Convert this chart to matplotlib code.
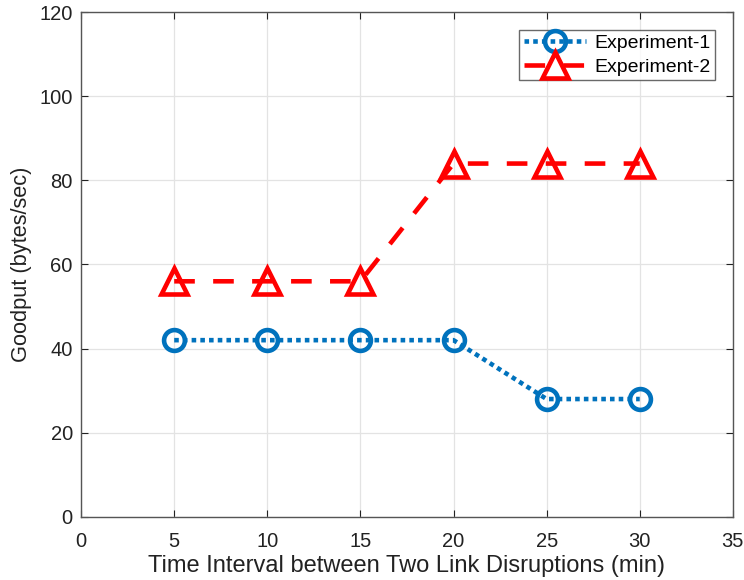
import matplotlib
matplotlib.use("Agg")
import matplotlib.pyplot as plt

plt.rcParams['font.family'] = ['Liberation Sans', 'DejaVu Sans']

intervals = [5, 10, 15, 20, 25, 30]
exp1 = [42, 42, 42, 42, 28, 28]
exp2 = [56, 56, 56, 84, 84, 84]

fig = plt.figure(figsize=(7.44, 5.8), dpi=100)
ax = fig.add_axes([0.109, 0.109, 0.876, 0.870])

ax.plot(intervals, exp1, color='#0072BD', linestyle=(0, (1, 0.9)), linewidth=3.3,
        marker='o', markersize=15, markerfacecolor='none',
        markeredgewidth=3.3, label='Experiment-1')
ax.plot(intervals, exp2, color='#FF0000', linestyle=(0, (4.5, 4)), linewidth=3.3,
        marker='^', markersize=19, markerfacecolor='none',
        markeredgewidth=3.3, label='Experiment-2')

ax.set_xlim(0, 35)
ax.set_ylim(0, 120)
ax.set_xticks(range(0, 36, 5))
ax.set_yticks(range(0, 121, 20))
ax.grid(True, color='#e3e3e3', linewidth=0.9)
ax.set_axisbelow(True)
for s in ax.spines.values():
    s.set_color('#555555')
    s.set_linewidth(1.0)
ax.tick_params(labelsize=14.5, colors='#222222', direction='in', length=5,
               top=True, right=True)
ax.tick_params(axis='x', pad=11)
ax.tick_params(axis='y', pad=6)

ax.set_xlabel('Time Interval between Two Link Disruptions (min)', fontsize=17,
              color='#222222', labelpad=3)
ax.set_ylabel('Goodput (bytes/sec)', fontsize=15.7, color='#222222', labelpad=5)

leg = ax.legend(loc='upper right', fontsize=14, frameon=True, fancybox=False,
                edgecolor='#444444', handlelength=3.2, handletextpad=0.4,
                borderpad=0.25, labelspacing=0.3, borderaxespad=0.9)
leg.get_frame().set_linewidth(1.0)

fig.savefig('out.png', dpi=100)
